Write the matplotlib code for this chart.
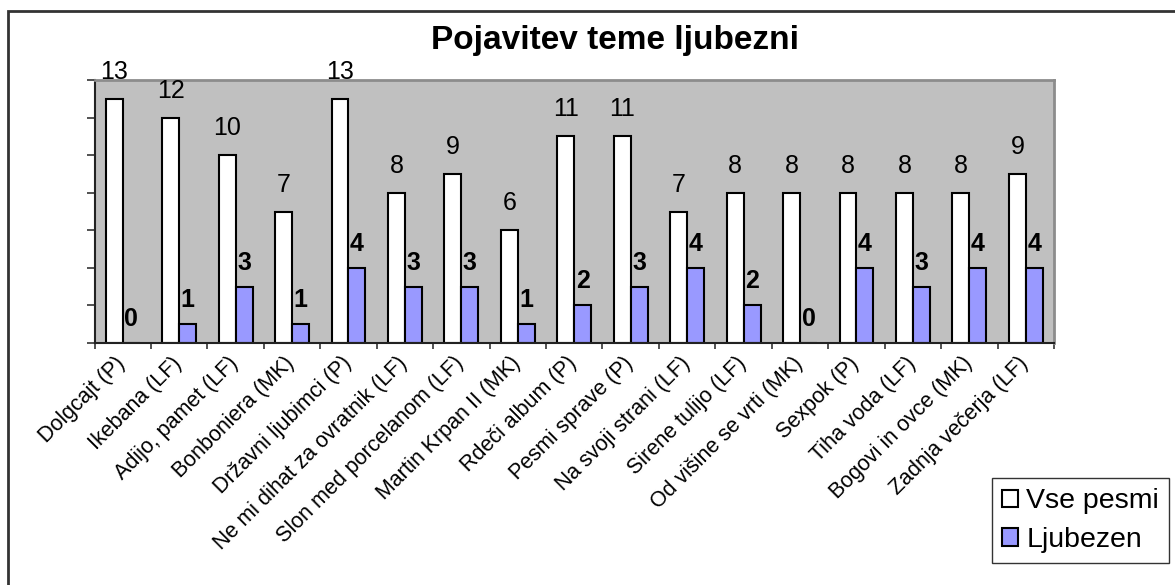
import matplotlib
matplotlib.use("Agg")
import matplotlib.pyplot as plt
import matplotlib.transforms as mtransforms
import numpy as np
from matplotlib.patches import Rectangle

plt.rcParams['font.family'] = ['Liberation Sans', 'DejaVu Sans']

# data
pesmi = ['Dolgcajt (P)', 'Ikebana (LF)', 'Adijo, pamet (LF)', 'Bonboniera (MK)',
         'Državni ljubimci (P)', 'Ne mi dihat za ovratnik (LF)',
         'Slon med porcelanom (LF)', 'Martin Krpan II (MK)', 'Rdeči album (P)',
         'Pesmi sprave (P)', 'Na svoji strani (LF)', 'Sirene tulijo (LF)',
         'Od višine se vrti (MK)', 'Sexpok (P)', 'Tiha voda (LF)',
         'Bogovi in ovce (MK)', 'Zadnja večerja (LF)']
vse_pesmi = [13, 12, 10, 7, 13, 8, 9, 6, 11, 11, 7, 8, 8, 8, 8, 8, 9]
ljubezen = [0, 1, 3, 1, 4, 3, 3, 1, 2, 3, 4, 2, 0, 4, 3, 4, 4]

W, H = 1175, 585
fig = plt.figure(figsize=(W / 100, H / 100), dpi=100)

# outer chart border (cut off at right and bottom like the original)
fig.add_artist(Rectangle((8 / W, -0.05), 1.2, 1 - 10.5 / H + 0.05,
                         transform=fig.transFigure, fill=False,
                         edgecolor='#333333', linewidth=2))

ax = fig.add_axes([94.5 / W, 1 - 343 / H, (1054 - 94.5) / W, (343 - 80) / H])
ax.set_facecolor('#C0C0C0')

x = np.arange(len(pesmi))
w = 0.3
ax.bar(x - w / 2, vse_pesmi, w, color='white', edgecolor='black',
       linewidth=1.5, label='Vse pesmi')
ax.bar(x + w / 2, ljubezen, w, color='#9999FF', edgecolor='black',
       linewidth=1.5, label='Ljubezen')

for xi, v in zip(x, vse_pesmi):
    ax.annotate(str(v), (xi - w / 2, v), xytext=(0, 14.4),
                textcoords='offset points', ha='center', va='baseline',
                fontsize=18)
for xi, v in zip(x, ljubezen):
    ax.annotate(str(v), (xi + w / 2, v), xytext=(0, 12.2),
                textcoords='offset points', ha='center', va='baseline',
                fontsize=18, fontweight='bold')

ax.set_xlim(-0.5, len(pesmi) - 0.5)
ax.set_ylim(0, 14)
ax.set_yticks(np.arange(0, 15, 2))
ax.set_yticklabels([])
ax.tick_params(axis='y', direction='out', length=6, width=1.2, color='#333333')

ax.set_xticks(np.arange(-0.5, len(pesmi), 1))
ax.set_xticklabels([])
ax.tick_params(axis='x', which='major', direction='out', length=4.5,
               width=1.2, color='#333333')
ax.set_xticks(x, minor=True)
ax.set_xticklabels(pesmi, minor=True, rotation=45, ha='right',
                   va='top', rotation_mode='anchor', fontsize=15.5)
ax.tick_params(axis='x', which='minor', length=0, pad=7)
shift = mtransforms.ScaledTranslation(-8 / 100, 0, fig.dpi_scale_trans)
for lab in ax.get_xticklabels(minor=True):
    lab.set_transform(lab.get_transform() + shift)

for s in ['left', 'bottom']:
    ax.spines[s].set_color('#222222')
    ax.spines[s].set_linewidth(1.5)
for s in ['top', 'right']:
    ax.spines[s].set_color('#8C8C8C')
    ax.spines[s].set_linewidth(2)

fig.text(615 / W, 1 - 49 / H, 'Pojavitev teme ljubezni', ha='center',
         va='baseline', fontsize=24, fontweight='bold')

leg = fig.legend(loc='lower right', bbox_to_anchor=(1169 / W, 1 - 563 / H),
                 borderaxespad=0, fontsize=20.5, handlelength=0.55,
                 handleheight=0.55, handletextpad=0.3, labelspacing=0.45,
                 borderpad=0.35, fancybox=False, framealpha=1)
leg.get_frame().set_edgecolor('#333333')
leg.get_frame().set_linewidth(1)

fig.savefig('out.png', dpi=100)
